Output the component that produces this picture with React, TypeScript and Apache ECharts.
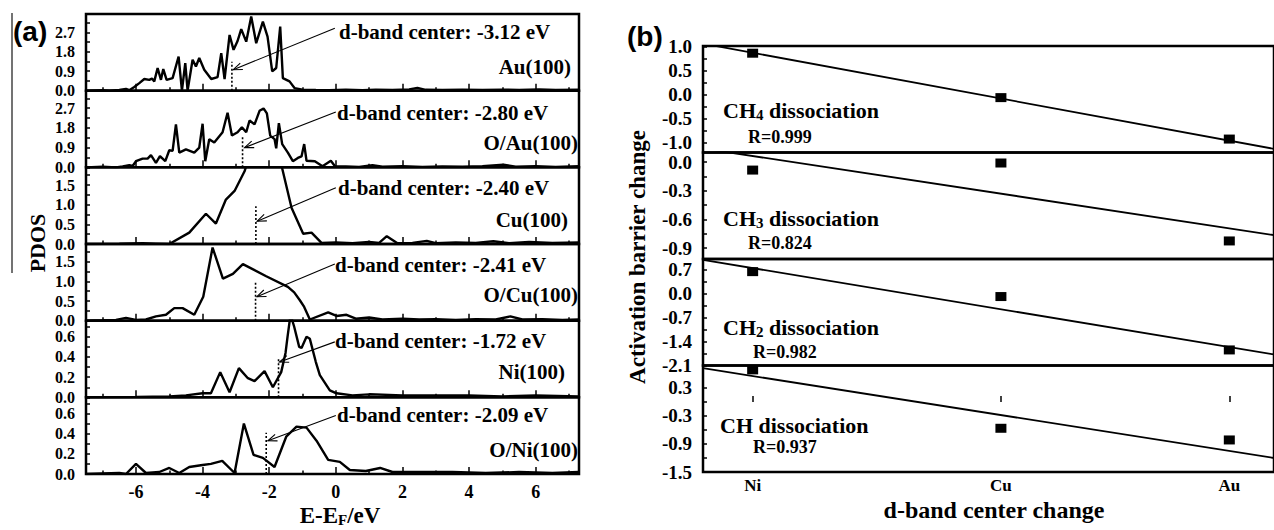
import React, { useEffect, useRef } from "react";
import * as echarts from "echarts";

const SERIF = "'Liberation Serif', 'Times New Roman', serif";
const SANS = "'Liberation Sans', Arial, sans-serif";

// ---------- Panel (a): PDOS curves, [E - EF (eV), PDOS] ----------
const au100: [number, number][] = [
  [-7.5, 0], [-7.0, 0.02], [-6.8, 0.0], [-6.5, 0.03], [-6.3, 0.08], [-6.2, 0.02], [-6.05, 0.17],
  [-5.9, 0.35], [-5.75, 0.54], [-5.6, 0.5], [-5.52, 0.56], [-5.45, 0.43], [-5.35, 1.05], [-5.25, 0.5],
  [-5.18, 1.0], [-5.08, 0.5], [-4.9, 0.58], [-4.72, 1.58], [-4.62, 0.0], [-4.52, 1.28], [-4.45, 0.0],
  [-4.3, 1.43], [-4.2, 1.12], [-4.1, 1.51], [-3.95, 0.97], [-3.74, 0.54], [-3.55, 0.63], [-3.44, 1.74],
  [-3.34, 0.54], [-3.19, 2.58], [-3.07, 1.89], [-2.95, 2.3], [-2.84, 2.85], [-2.69, 2.27], [-2.54, 3.43],
  [-2.39, 2.2], [-2.19, 3.2], [-2.05, 2.5], [-1.91, 0.89], [-1.79, 1.05], [-1.67, 2.97], [-1.59, 0.58],
  [-1.39, 0.43], [-1.24, 0.12], [-1.0, 0.05], [-0.6, 0.03], [-0.2, 0.02], [0.3, 0.04], [0.8, 0.02],
  [1.2, 0.05], [1.7, 0.03], [2.2, 0.06], [2.45, 0.13], [2.7, 0.04], [3.2, 0.03], [3.8, 0.05], [4.4, 0.03],
  [5.0, 0.05], [5.5, 0.03], [6.1, 0.06], [6.6, 0.03], [7.3, 0.04],
];
const oau100: [number, number][] = [
  [-7.5, 0], [-7.0, 0.03], [-6.6, 0.0], [-6.4, 0.04], [-6.2, 0.1], [-6.1, 0.06], [-6.0, 0.28], [-5.8, 0.4],
  [-5.65, 0.4], [-5.55, 0.56], [-5.4, 0.2], [-5.28, 0.51], [-5.12, 0.28], [-5.0, 0.78], [-4.9, 0.75],
  [-4.8, 1.96], [-4.7, 0.67], [-4.5, 0.82], [-4.25, 0.67], [-4.1, 0.9], [-4.0, 1.99], [-3.92, 0.28],
  [-3.8, 1.28], [-3.65, 1.13], [-3.4, 1.6], [-3.25, 2.49], [-3.12, 1.45], [-2.95, 1.6], [-2.82, 1.83],
  [-2.69, 1.6], [-2.59, 2.14], [-2.44, 1.96], [-2.29, 2.58], [-2.17, 2.69], [-2.07, 2.46], [-1.97, 1.45],
  [-1.84, 1.29], [-1.79, 0.87], [-1.71, 2.02], [-1.61, 1.06], [-1.44, 0.67], [-1.29, 0.28], [-1.14, 0.43],
  [-1.03, 0.5], [-0.95, 1.06], [-0.88, 0.3], [-0.63, 0.28], [-0.4, 0.05], [-0.15, 0.3], [-0.02, 0.04],
  [0.3, 0.04], [0.7, 0.02], [1.1, 0.1], [1.4, 0.03], [2.0, 0.05], [2.6, 0.02], [3.2, 0.04], [3.8, 0.03],
  [4.4, 0.05], [5.03, 0.12], [5.4, 0.03], [6.0, 0.05], [6.6, 0.02], [7.3, 0.05],
];
const cu100: [number, number][] = [
  [-7.5, 0], [-6.5, 0.01], [-5.8, 0.02], [-5.4, 0.01], [-5.0, 0.0], [-4.4, 0.29], [-3.9, 0.77],
  [-3.6, 0.52], [-3.3, 1.13], [-3.04, 1.35], [-2.74, 1.85], [-2.5, 2.5], [-2.1, 2.8], [-1.8, 2.6],
  [-1.59, 1.85], [-1.33, 0.92], [-0.98, 0.26], [-0.73, 0.29], [-0.43, 0.03], [0.0, 0.04], [0.5, 0.02],
  [1.0, 0.05], [1.3, 0.03], [1.53, 0.2], [1.85, 0.02], [2.3, 0.03], [2.73, 0.08], [3.0, 0.02],
  [3.6, 0.04], [4.2, 0.03], [4.73, 0.07], [5.2, 0.02], [5.8, 0.05], [6.5, 0.03], [7.3, 0.04],
];
const ocu100: [number, number][] = [
  [-7.5, 0], [-7.0, 0.01], [-6.6, 0.02], [-6.3, 0.07], [-6.0, 0.02], [-5.7, 0.03], [-5.4, 0.11],
  [-5.1, 0.15], [-4.85, 0.32], [-4.6, 0.32], [-4.25, 0.15], [-3.98, 0.61], [-3.7, 1.86], [-3.39, 1.07],
  [-3.09, 1.19], [-2.79, 1.44], [-2.09, 1.13], [-1.44, 0.86], [-1.25, 0.72], [-1.08, 0.52], [-0.95, 0.35],
  [-0.78, 0.03], [-0.23, 0.21], [0.02, 0.12], [0.32, 0.15], [0.6, 0.05], [1.0, 0.08], [1.4, 0.03],
  [2.0, 0.05], [2.5, 0.03], [3.0, 0.04], [3.6, 0.02], [4.2, 0.04], [4.8, 0.03], [5.24, 0.11], [5.6, 0.03],
  [6.2, 0.04], [6.8, 0.02], [7.3, 0.03],
];
const ni100: [number, number][] = [
  [-7.5, 0], [-6.0, 0.005], [-5.0, 0.01], [-4.5, 0.02], [-4.0, 0.04], [-3.75, 0.04], [-3.47, 0.25],
  [-3.19, 0.05], [-2.91, 0.29], [-2.64, 0.19], [-2.44, 0.16], [-2.14, 0.26], [-1.89, 0.1], [-1.64, 0.25],
  [-1.51, 0.44], [-1.45, 0.6], [-1.36, 0.82], [-1.25, 0.7], [-1.1, 0.5], [-1.03, 0.49], [-0.88, 0.6],
  [-0.78, 0.58], [-0.6, 0.35], [-0.48, 0.22], [-0.18, 0.07], [0.02, 0.04], [0.5, 0.02], [1.0, 0.03],
  [2.0, 0.02], [3.0, 0.02], [4.0, 0.02], [5.0, 0.01], [6.0, 0.02], [7.3, 0.01],
];
const oni100: [number, number][] = [
  [-7.5, 0], [-7.0, 0.005], [-6.5, 0.01], [-6.3, 0.0], [-6.0, 0.1], [-5.7, 0.01], [-5.3, 0.02],
  [-5.0, 0.06], [-4.7, 0.01], [-4.4, 0.07], [-4.0, 0.09], [-3.75, 0.1], [-3.41, 0.13], [-3.04, 0.01],
  [-2.76, 0.5], [-2.47, 0.19], [-2.19, 0.16], [-1.84, 0.07], [-1.49, 0.37], [-1.18, 0.47], [-0.88, 0.46],
  [-0.58, 0.33], [-0.23, 0.14], [0.12, 0.12], [0.42, 0.04], [0.9, 0.03], [1.33, 0.06], [1.7, 0.02],
  [2.5, 0.02], [3.5, 0.02], [4.5, 0.01], [5.5, 0.02], [6.5, 0.01], [7.3, 0.02],
];

const pdosCurves = [au100, oau100, cu100, ocu100, ni100, oni100];
const surfaceNames = ["Au(100)", "O/Au(100)", "Cu(100)", "O/Cu(100)", "Ni(100)", "O/Ni(100)"];
const dBandCenters = [-3.12, -2.8, -2.4, -2.41, -1.72, -2.09];
const dBandMarkerHeights = [1.34, 1.45, 0.96, 0.97, 0.39, 0.41];
const arrowStarts: [number, number][] = [[-0.03, 2.89], [0.0, 2.53], [0.0, 1.43], [-0.03, 1.44], [-0.03, 0.55], [0.0, 0.58]];
const arrowEnds: [number, number][] = [[-3.08, 0.97], [-2.74, 0.9], [-2.36, 0.58], [-2.37, 0.61], [-1.69, 0.35], [-2.04, 0.33]];
const pdosMax = [3.55, 3.5, 1.95, 1.95, 0.76, 0.76];
const pdosLabels = [[0, 0.9, 1.8, 2.7], [0, 0.9, 1.8, 2.7], [0, 0.5, 1.0, 1.5], [0, 0.5, 1.0, 1.5], [0, 0.2, 0.4, 0.6], [0, 0.2, 0.4, 0.6]];
const pdosTickStep = [0.45, 0.45, 0.25, 0.25, 0.1, 0.1];
const energyMin = -7.5;
const energyMax = 7.3;
const energyMajor = [-6, -4, -2, 0, 2, 4, 6];
const energyMinor = [-7, -5, -3, -1, 1, 3, 5, 7];

// ---------- Panel (b): activation barrier change ----------
const metals = ["Ni", "Cu", "Au"];
const metalPos = [0.2, 1.2, 2.12];
const xRange = [0, 2.3];
const ch4Barrier = [0.87, -0.056, -0.92];
const ch3Barrier = [-0.084, -0.01, -0.826];
const ch2Barrier = [0.65, -0.08, -1.644];
const chBarrier = [0.686, -0.564, -0.814];
const ch4Fit = [1.07, -1.125];
const ch3Fit = [0.142, -0.765];
const ch2Fit = [0.994, -1.777];
const chFit = [0.722, -1.2];
const barriers = [ch4Barrier, ch3Barrier, ch2Barrier, chBarrier];
const fits = [ch4Fit, ch3Fit, ch2Fit, chFit];
const reactionMain = ["CH", "CH", "CH", "CH"];
const reactionSub = ["4", "3", "2", ""];
const rValues = ["R=0.999", "R=0.824", "R=0.982", "R=0.937"];
const barrierMin = [-1.2, -1.015, -2.1, -1.5];
const barrierMax = [1.02, 0.1, 1.02, 0.78];
const barrierLabels = [[1.0, 0.5, 0.0, -0.5, -1.0], [0.0, -0.3, -0.6, -0.9], [0.7, 0.0, -0.7, -1.4, -2.1], [0.3, -0.3, -0.9, -1.5]];
const barrierTickStep = [0.25, 0.15, 0.35, 0.3];

function ticksBetween(lo: number, hi: number, step: number) {
  const out: number[] = [];
  const n = Math.round((hi - lo) / step);
  for (let k = 0; k <= n; k++) out.push(Math.round((lo + k * step) * 1000) / 1000);
  return out;
}

function measure(text: string, size: number, family = SERIF) {
  const c = document.createElement("canvas").getContext("2d")!;
  c.font = `bold ${size}px ${family}`;
  return c.measureText(text).width;
}

function txt(text: string, x: number, y: number, size: number, o: any = {}) {
  return {
    type: "text",
    x,
    y,
    rotation: o.rotation || 0,
    z: 100,
    silent: true,
    style: {
      text,
      fontSize: size,
      fontWeight: "bold",
      fontFamily: o.family || SERIF,
      fill: "#000",
      align: o.align || "left",
      verticalAlign: "middle",
    },
  };
}

function buildOption() {
  const grid: any[] = [];
  const xAxis: any[] = [];
  const yAxis: any[] = [];
  const series: any[] = [];
  const tickLine = { color: "#000", width: 1.5 };
  const labelFont = { color: "#000", fontFamily: SERIF, fontWeight: "bold" };

  // Left panels
  const lTop = 14, lH = 76.67, lLeft = 86, lW = 493;
  for (let i = 0; i < 6; i++) {
    grid.push({ left: lLeft, top: lTop + i * lH, width: lW, height: lH, show: true, borderColor: "#000", borderWidth: 2.5, backgroundColor: "transparent" });
    const last = i === 5;
    xAxis.push({
      type: "value", gridIndex: i, min: energyMin, max: energyMax, position: "bottom",
      axisLine: { show: false }, splitLine: { show: false },
      axisTick: { show: true, inside: true, length: 7, lineStyle: tickLine, customValues: energyMajor },
      axisLabel: { show: last, customValues: energyMajor, fontSize: 18, margin: 9, ...labelFont, formatter: (v: number) => String(v) },
    });
    xAxis.push({
      type: "value", gridIndex: i, min: energyMin, max: energyMax, position: "bottom",
      axisLine: { show: false }, splitLine: { show: false },
      axisTick: { show: true, inside: true, length: 3.5, lineStyle: tickLine, customValues: energyMinor },
      axisLabel: { show: false },
    });
    const top = pdosLabels[i][pdosLabels[i].length - 1] + pdosTickStep[i];
    yAxis.push({
      type: "value", gridIndex: i, min: 0, max: pdosMax[i],
      axisLine: { show: false, onZero: false }, splitLine: { show: false },
      axisTick: { show: true, inside: true, length: 4, lineStyle: tickLine, customValues: ticksBetween(0, top, pdosTickStep[i]) },
      axisLabel: { customValues: pdosLabels[i], fontSize: 16, margin: 11, ...labelFont, formatter: (v: number) => v.toFixed(1) },
    });
    series.push({
      type: "line", xAxisIndex: 2 * i, yAxisIndex: i, data: pdosCurves[i], symbol: "none", showSymbol: false,
      lineStyle: { color: "#000", width: 2.4 }, clip: true, z: 3, emphasis: { disabled: true }, silent: true,
    });
    series.push({
      type: "line", xAxisIndex: 2 * i, yAxisIndex: i,
      data: [[dBandCenters[i], 0], [dBandCenters[i], dBandMarkerHeights[i]]],
      symbol: "none", lineStyle: { color: "#000", width: 1.6, type: [2, 2] }, z: 4, silent: true,
    });
  }

  // Right panels
  const rTop = 46, rH = 106.5, rLeft = 703;
  for (let j = 0; j < 4; j++) {
    const g = 6 + j;
    grid.push({ left: rLeft, right: -3, top: rTop + j * rH, height: rH, show: true, borderColor: "#000", borderWidth: 2.5, backgroundColor: "transparent" });
    const last = j === 3;
    xAxis.push({
      type: "value", gridIndex: g, min: xRange[0], max: xRange[1], position: "bottom",
      axisLine: { show: false }, splitLine: { show: false },
      axisTick: { show: last, inside: true, length: 6, lineStyle: tickLine, customValues: metalPos },
      axisLabel: {
        show: last, customValues: metalPos, fontSize: 17, margin: 5, ...labelFont,
        formatter: (v: number) => {
          let best = 0;
          metalPos.forEach((p, k) => { if (Math.abs(p - v) < Math.abs(metalPos[best] - v)) best = k; });
          return metals[best];
        },
      },
    });
    const lo = barrierLabels[j][barrierLabels[j].length - 1];
    const hi = barrierLabels[j][0];
    yAxis.push({
      type: "value", gridIndex: g, min: barrierMin[j], max: barrierMax[j],
      axisLine: { show: false, onZero: false }, splitLine: { show: false },
      axisTick: { show: true, inside: true, length: 4, lineStyle: tickLine, customValues: ticksBetween(lo, hi, barrierTickStep[j]) },
      axisLabel: { customValues: barrierLabels[j], fontSize: 19, margin: 11, ...labelFont, formatter: (v: number) => v.toFixed(1) },
    });
    series.push({
      type: "line", xAxisIndex: 12 + j, yAxisIndex: g,
      data: [[xRange[0], fits[j][0]], [xRange[1], fits[j][1]]],
      symbol: "none", lineStyle: { color: "#000", width: 1.8 }, clip: true, silent: true, z: 3,
    });
    series.push({
      type: "scatter", xAxisIndex: 12 + j, yAxisIndex: g,
      data: metalPos.map((x, k) => [x, barriers[j][k]]),
      symbol: "rect", symbolSize: [11, 9], itemStyle: { color: "#000", opacity: 1 }, silent: true, z: 4,
    });
  }

  return { animation: false, backgroundColor: "#fff", grid, xAxis, yAxis, series };
}

function buildGraphic(chart: any) {
  const graphic: any[] = [];

  // Arrows from annotation to the d-band center marker (positions via the axes' scales)
  for (let i = 0; i < 6; i++) {
    const p0 = chart.convertToPixel({ xAxisIndex: 2 * i, yAxisIndex: i }, arrowStarts[i]);
    const p1 = chart.convertToPixel({ xAxisIndex: 2 * i, yAxisIndex: i }, arrowEnds[i]);
    if (!p0 || !p1) continue;
    const dx = p1[0] - p0[0], dy = p1[1] - p0[1];
    const len = Math.sqrt(dx * dx + dy * dy) || 1;
    const ux = dx / len, uy = dy / len;
    const hl = 9, hw = 3.5;
    const bx = p1[0] - ux * hl, by = p1[1] - uy * hl;
    graphic.push({
      type: "line", z: 90, silent: true,
      shape: { x1: p0[0], y1: p0[1], x2: p1[0], y2: p1[1] },
      style: { stroke: "#000", lineWidth: 1.1 },
    });
    graphic.push({
      type: "polyline", z: 90, silent: true,
      shape: { points: [[bx - uy * hw, by + ux * hw], [p1[0], p1[1]], [bx + uy * hw, by - ux * hw]] },
      style: { stroke: "#000", lineWidth: 1.1, fill: null },
    });
  }

  // Left annotations
  const annY = [32, 113, 188, 265, 341, 415];
  const annX = [339, 337, 338, 335, 335, 337];
  const nameY = [67, 143, 220, 295, 372, 450];
  const nameRight = [571, 578, 568, 578, 565, 578];
  for (let i = 0; i < 6; i++) {
    graphic.push(txt(`d-band center: ${dBandCenters[i].toFixed(2)} eV`, annX[i], annY[i], 21));
    graphic.push(txt(surfaceNames[i], nameRight[i], nameY[i], 21, { align: "right" }));
  }

  // Right annotations
  const reactY = [110, 218, 327, 425];
  const reactX = [723, 723, 723, 720];
  const rY = [137, 243, 352, 447];
  const rX = [748, 748, 753, 753];
  for (let j = 0; j < 4; j++) {
    const main = reactionMain[j];
    const sub = reactionSub[j];
    const w1 = measure(main, 22);
    graphic.push(txt(main, reactX[j], reactY[j], 22));
    let x = reactX[j] + w1;
    if (sub) {
      graphic.push(txt(sub, x, reactY[j] + 5, 15));
      x += measure(sub, 15);
    }
    graphic.push(txt(" dissociation", x, reactY[j], 22));
    graphic.push(txt(rValues[j], rX[j], rY[j], 18));
  }

  // Titles
  graphic.push(txt("(a)", 13, 31, 28, { family: SANS }));
  graphic.push(txt("(b)", 627, 36, 28, { family: SANS }));
  graphic.push(txt("PDOS", 37, 243, 22, { align: "center", rotation: Math.PI / 2 }));
  graphic.push(txt("Activation barrier change", 637, 257, 23, { align: "center", rotation: Math.PI / 2 }));
  graphic.push(txt("d-band center change", 994, 510, 24, { align: "center" }));
  {
    const s = 23, ss = 15;
    const wa = measure("E-E", s), wb = measure("F", ss), wc = measure("/eV", s);
    const x0 = 340 - (wa + wb + wc) / 2;
    graphic.push(txt("E-E", x0, 515, s));
    graphic.push(txt("F", x0 + wa, 520, ss));
    graphic.push(txt("/eV", x0 + wa + wb, 515, s));
  }
  graphic.push({
    type: "line", z: 100, silent: true,
    shape: { x1: 12, y1: 13, x2: 12, y2: 273 },
    style: { stroke: "#444", lineWidth: 1.5 },
  });
  return graphic;
}

export default function App() {
  const ref = useRef<HTMLDivElement>(null);
  useEffect(() => {
    if (!ref.current) return;
    const chart = echarts.init(ref.current, undefined, { renderer: "svg" });
    chart.setOption(buildOption() as any);
    chart.setOption({ graphic: buildGraphic(chart) } as any);
    return () => chart.dispose();
  }, []);
  return (
    <div
      ref={ref}
      style={{ position: "fixed", left: 0, top: 0, width: 1274, height: 530, background: "#fff" }}
    />
  );
}
